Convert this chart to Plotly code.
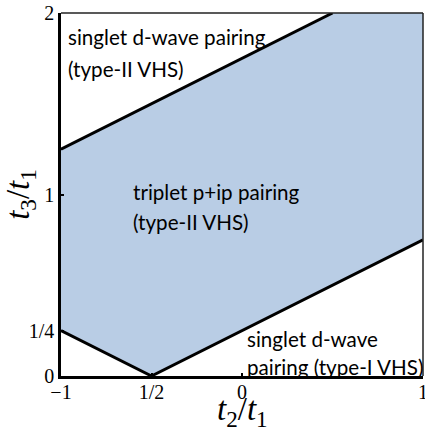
import plotly.graph_objects as go

# boundary lines (t2/t1, t3/t1)
lower_x = [-1, -0.5, 1]
lower_y = [0.25, 0, 0.75]
upper_x = [-1, 0.5, 1]
upper_y = [1.25, 2, 2]

xtick_vals = [-1, -0.5, 0, 1]
xtick_text = ["\u22121", "1/2", "0", "1"]
ytick_vals = [0, 0.25, 1, 2]
ytick_text = ["0", "1/4", "1", "2"]

# region labels: text line, x (left), y (middle)
label_text = ["singlet d-wave pairing", "(type-II VHS)",
              "triplet p+ip pairing", "(type-II VHS)",
              "singlet d-wave", "pairing (type-I VHS)"]
label_x = [-0.972, -0.972, -0.614, -0.614, 0.017, 0.017]
label_y = [1.866, 1.693, 1.012, 0.847, 0.205, 0.051]

fig = go.Figure()

poly_x = lower_x + upper_x[::-1]
poly_y = lower_y + upper_y[::-1]
fig.add_trace(go.Scatter(x=poly_x, y=poly_y, fill="toself", fillcolor="#b9cde5",
                         line=dict(width=0), mode="lines", hoverinfo="skip"))
fig.add_trace(go.Scatter(x=lower_x, y=lower_y, mode="lines",
                         line=dict(color="black", width=3)))
fig.add_trace(go.Scatter(x=upper_x[:2], y=upper_y[:2], mode="lines",
                         line=dict(color="black", width=3)))

for txt, x, y in zip(label_text, label_x, label_y):
    fig.add_annotation(x=x, y=y, text=txt, showarrow=False, xanchor="left",
                       yanchor="middle", align="left",
                       font=dict(family="Lato", size=20.6, color="black"))

# x-axis title placed just below the tick labels
fig.add_annotation(xref="paper", yref="paper", x=0.5, y=-0.097,
                   text="<i>t</i><sub>2</sub>/<i>t</i><sub>1</sub>",
                   showarrow=False, xanchor="center", yanchor="middle",
                   font=dict(family="Liberation Serif", size=33, color="black"))

# thin top/right frame
fig.add_shape(type="line", xref="paper", yref="paper", x0=0, x1=1, y0=1, y1=1,
              line=dict(color="#222", width=1.5))
fig.add_shape(type="line", xref="paper", yref="paper", x0=1, x1=1, y0=0, y1=1,
              line=dict(color="#222", width=1.5))

fig.update_layout(
    width=425, height=432,
    margin=dict(l=61, r=2, t=13, b=56),
    plot_bgcolor="white", paper_bgcolor="white",
    showlegend=False,
    font=dict(family="Liberation Serif", size=20, color="black"),
    xaxis=dict(range=[-1, 1], tickvals=xtick_vals, ticktext=xtick_text,
               showgrid=False, zeroline=False, showline=True, linecolor="black",
               linewidth=2.5, ticks="inside", ticklen=3, tickwidth=2, tickcolor="black",
               automargin=False, ticklabelstandoff=-4, ticklabeloverflow="allow"),
    yaxis=dict(range=[0, 2], tickvals=ytick_vals, ticktext=ytick_text,
               showgrid=False, zeroline=False, showline=True, linecolor="black",
               linewidth=2.5, ticks="inside", ticklen=3, tickwidth=2, tickcolor="black",
               automargin=False, ticklabeloverflow="allow",
               title=dict(text="<i>t</i><sub>3</sub>/<i>t</i><sub>1</sub>",
                          font=dict(size=33), standoff=2)),
)

fig.write_html("out.html", config={"displayModeBar": False},
               post_script="document.body.style.margin='0px';"
                           "document.body.style.overflow='hidden';")
